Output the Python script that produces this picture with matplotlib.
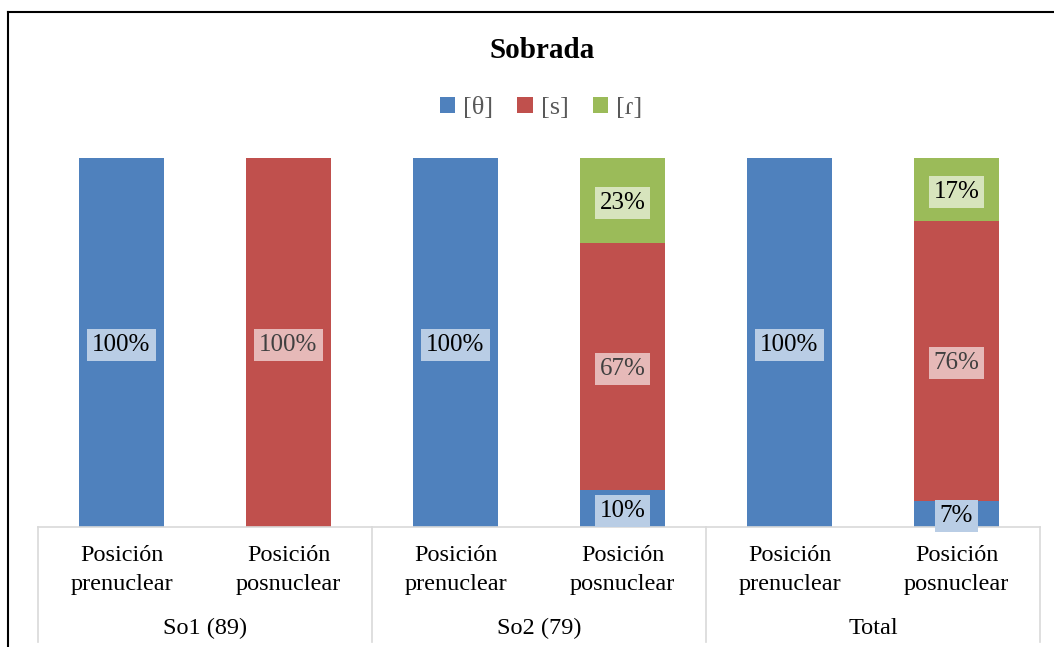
import matplotlib.pyplot as plt
from matplotlib.lines import Line2D
import numpy as np

# datos (porcentajes por posición)
posiciones = ['Posición\nprenuclear', 'Posición\nposnuclear'] * 3
grupos = ['So1 (89)', 'So2 (79)', 'Total']
series = ['[θ]', '[s]', '[ɾ]']
theta = [100, 0, 100, 10, 100, 7]
ese = [0, 100, 0, 67, 0, 76]
tap = [0, 0, 0, 23, 0, 17]

colores = ['#4F81BD', '#C0504D', '#9BBB59']
cajas = ['#B9CDE5', '#E6B9B8', '#D7E4BD']
texto_caja = ['black', '#404040', 'black']

plt.rcParams['font.family'] = ['Liberation Serif', 'DejaVu Serif']

fig = plt.figure(figsize=(10.54, 6.47), dpi=100)
W, H = 1054, 647
ax = fig.add_axes([38 / W, (H - 527) / H, (1040 - 38) / W, (527 - 158) / H])

x = np.arange(len(posiciones))
base = np.zeros(len(x))
for nombre, vals, col, caja, tc in zip(series, [theta, ese, tap], colores, cajas, texto_caja):
    vals = np.array(vals, dtype=float)
    ax.bar(x, vals, 0.51, bottom=base, color=col, label=nombre, zorder=2)
    for xi, v, b in zip(x, vals, base):
        if v > 0:
            ax.text(xi, b + v / 2 - 0.6, f'{v:.0f}%', ha='center', va='center',
                    fontsize=18, color=tc, zorder=5,
                    bbox=dict(boxstyle='square,pad=0.2', fc=caja, ec='none'))
    base += vals

ax.set_xlim(-0.5, len(x) - 0.5)
ax.set_ylim(0, 100)
ax.set_yticks([])
for s in ['top', 'right', 'left']:
    ax.spines[s].set_visible(False)
ax.spines['bottom'].set_color('#D9D9D9')
ax.spines['bottom'].set_linewidth(1.2)

# etiquetas de posición (dos líneas)
ax.set_xticks(x)
ax.set_xticklabels([])
for xi, p in zip(x, posiciones):
    ax.text(xi, -(570 - 527) / (527 - 158) * 100, p, ha='center', va='center',
            fontsize=17.5, linespacing=1.45)
ax.tick_params(axis='x', length=0)

# separadores y etiquetas de grupo
abajo = -(642 - 527) / (527 - 158) * 100
for xs in [-0.5, 1.5, 3.5, 5.5]:
    ax.plot([xs, xs], [0, abajo], color='#D9D9D9', lw=1.2, clip_on=False)
for i, g in enumerate(grupos):
    ax.text(2 * i + 0.5, -(628 - 527) / (527 - 158) * 100, g, ha='center',
            va='center', fontsize=17.5)

fig.text(542 / W, 1 - 50 / H, 'Sobrada', ha='center', va='center',
         fontsize=21, fontweight='bold')
leg = fig.legend(loc='center', bbox_to_anchor=(541 / W, 1 - 108 / H), ncol=3,
                 frameon=False, fontsize=19, handlelength=0.6, handleheight=0.6,
                 handletextpad=0.3, columnspacing=0.9, labelcolor='#595959')

# marco
fig.add_artist(Line2D([8 / W, 8 / W], [0, 1 - 12 / H], color='black', lw=1.5))
fig.add_artist(Line2D([8 / W, 1], [1 - 12 / H, 1 - 12 / H], color='black', lw=1.5))

fig.savefig('out.png', dpi=100)
